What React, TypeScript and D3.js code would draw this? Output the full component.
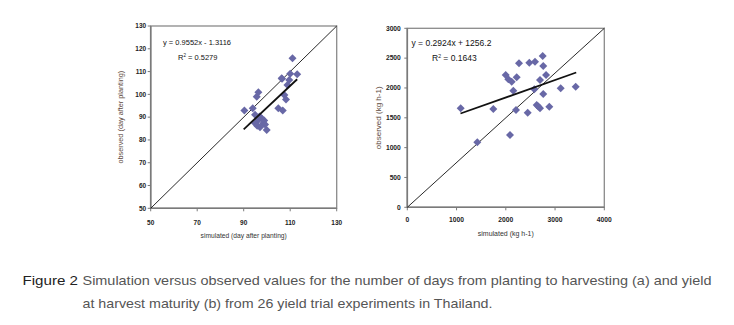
import React from "react";
import * as d3 from "d3";

// ---- Data: (a) days from planting to harvesting ----
const daysSimulated = [111, 113, 106.3, 109.6, 108.8, 110, 107.5, 108.2, 104.9, 106.8, 96.3, 95.6, 93.9, 90.3, 94.9, 96.3, 97.7, 98.4, 94.9, 99.9, 97, 95.8, 98.8, 96.8, 99.2, 106.5];
const daysObserved = [115.8, 108.8, 107.1, 106.3, 104.1, 109, 99.7, 97.8, 93.9, 92.9, 100.9, 99, 93.9, 92.9, 91, 88.8, 89.5, 87.3, 87.3, 84.4, 85.6, 86.2, 88.5, 90.3, 86.8, 106.8];
const daysTicksY = [50, 60, 70, 80, 90, 100, 110, 120, 130];
const daysTicksX = [50, 70, 90, 110, 130];
const daysFit = { slope: 0.9552, intercept: -1.3116, from: 90, to: 113 };

// ---- Data: (b) yield at harvest maturity ----
const yieldSimulated = [1084, 1421, 1746, 2085, 2207, 2445, 1998, 2051, 2120, 2221, 2152, 2268, 2477, 2593, 2749, 2761, 2817, 2694, 2579, 2761, 2627, 2694, 2883, 3114, 3419, 2660];
const yieldObserved = [1659, 1089, 1648, 1212, 1631, 1586, 2217, 2145, 2105, 2179, 1954, 2413, 2424, 2441, 2536, 2368, 2217, 2134, 1978, 1899, 1715, 1659, 1687, 1994, 2022, 1690];
const yieldTicksY = [0, 500, 1000, 1500, 2000, 2500, 3000];
const yieldTicksX = [0, 1000, 2000, 3000, 4000];
const yieldFit = { slope: 0.2924, intercept: 1256.2, from: 1080, to: 3430 };

const FONT = "'Liberation Sans', Arial, sans-serif";
const MARK = "#6868a6";

type PanelProps = {
  xs: number[]; ys: number[];
  xDomain: [number, number]; yDomain: [number, number];
  xRange: [number, number]; yRange: [number, number];
  ticksX: number[]; ticksY: number[];
  fit: { slope: number; intercept: number; from: number; to: number };
  eq: string; r2: string;
  eqX: number; eqY: number; r2X: number; r2Y: number; eqSize: number;
  tickSize: number; xLabelY: number; yLabelOffset: number;
  xTitle: string; yTitle: string; xTitleY: number; yTitleX: number; titleSize: number; yTitleSize: number;
};

function diamond(cx: number, cy: number, r: number) {
  return `M${cx},${cy - r}L${cx + r},${cy}L${cx},${cy + r}L${cx - r},${cy}Z`;
}

function Panel(p: PanelProps) {
  const x = d3.scaleLinear().domain(p.xDomain).range(p.xRange);
  const y = d3.scaleLinear().domain(p.yDomain).range(p.yRange);
  const line = d3.line<[number, number]>().x((d) => x(d[0])).y((d) => y(d[1]));
  const fitPts: [number, number][] = [
    [p.fit.from, p.fit.slope * p.fit.from + p.fit.intercept],
    [p.fit.to, p.fit.slope * p.fit.to + p.fit.intercept],
  ];
  const onePts: [number, number][] = [
    [p.xDomain[0], p.yDomain[0]],
    [p.xDomain[1], p.yDomain[1]],
  ];
  const [x0, x1] = p.xRange;
  const [yb, yt] = p.yRange;
  return (
    <g fontFamily={FONT}>
      <rect x={x0} y={yt} width={x1 - x0} height={yb - yt} fill="none" stroke="#8a8a8a" strokeWidth={1.3} />
      <line x1={x0} x2={x0} y1={yt} y2={yb} stroke="#7a7a7a" strokeWidth={1.6} />
      <line x1={x0} x2={x1} y1={yb} y2={yb} stroke="#7a7a7a" strokeWidth={1.6} />
      {p.ticksY.map((t) => (
        <g key={"y" + t}>
          <line x1={x0 - 3} x2={x0} y1={y(t)} y2={y(t)} stroke="#7a7a7a" strokeWidth={1} />
          <text x={x0 - p.yLabelOffset} y={y(t)} dy="0.35em" textAnchor="end" fontSize={p.tickSize} fill="#222" fontWeight={600}>{t}</text>
        </g>
      ))}
      {p.ticksX.map((t) => (
        <g key={"x" + t}>
          <line x1={x(t)} x2={x(t)} y1={yb} y2={yb + 3} stroke="#7a7a7a" strokeWidth={1} />
          <text x={x(t)} y={p.xLabelY} textAnchor="middle" fontSize={p.tickSize} fill="#222" fontWeight={600}>{t}</text>
        </g>
      ))}
      <path d={line(onePts) || ""} stroke="#111" strokeWidth={0.9} fill="none" />
      {p.xs.map((v, i) => (
        <path key={i} d={diamond(x(v), y(p.ys[i]), 4)} fill={MARK} />
      ))}
      <path d={line(fitPts) || ""} stroke="#111" strokeWidth={1.8} fill="none" />
      <text x={p.eqX} y={p.eqY} fontSize={p.eqSize} fill="#111">{p.eq}</text>
      <text x={p.r2X} y={p.r2Y} fontSize={p.eqSize} fill="#111">
        R<tspan dy={-3} fontSize={p.eqSize * 0.6}>2</tspan><tspan dy={3}>{" = " + p.r2}</tspan>
      </text>
      <text x={(x0 + x1) / 2} y={p.xTitleY} textAnchor="middle" fontSize={p.titleSize} fill="#333">{p.xTitle}</text>
      <text transform={`translate(${p.yTitleX},${(yt + yb) / 2}) rotate(-90)`} textAnchor="middle" fontSize={p.yTitleSize} fill="#5e4a40">{p.yTitle}</text>
    </g>
  );
}

export default function App() {
  return (
    <svg width={734} height={325} style={{ position: "absolute", left: 0, top: 0, background: "#fff" }}>
      <rect width={734} height={325} fill="#fff" />
      <Panel
        xs={daysSimulated} ys={daysObserved}
        xDomain={[50, 130]} yDomain={[50, 130]}
        xRange={[150.7, 336.7]} yRange={[208.3, 26]}
        ticksX={daysTicksX} ticksY={daysTicksY}
        fit={daysFit}
        eq="y = 0.9552x - 1.3116" r2="0.5279"
        eqX={163} eqY={45} r2X={178} r2Y={59.5} eqSize={7.5}
        tickSize={6.5} xLabelY={224.5} yLabelOffset={4.5}
        xTitle="simulated (day after planting)" yTitle="observed (day after planting)"
        xTitleY={237.5} yTitleX={123} titleSize={6.7} yTitleSize={7.3}
      />
      <Panel
        xs={yieldSimulated} ys={yieldObserved}
        xDomain={[0, 4000]} yDomain={[0, 3000]}
        xRange={[407.3, 604.3]} yRange={[207.3, 28.3]}
        ticksX={yieldTicksX} ticksY={yieldTicksY}
        fit={yieldFit}
        eq="y = 0.2924x + 1256.2" r2="0.1643"
        eqX={411.5} eqY={46} r2X={432} r2Y={61} eqSize={8.5}
        tickSize={6.7} xLabelY={222} yLabelOffset={6.5}
        xTitle="simulated (kg h-1)" yTitle="observed (kg h-1)"
        xTitleY={236} yTitleX={381} titleSize={7} yTitleSize={8}
      />
      <g fontFamily={FONT} fontSize={13.5}>
        <text x={22.5} y={284.5} fill="#222" textLength={55.5} lengthAdjust="spacingAndGlyphs">Figure 2</text>
        <text x={82.5} y={284.5} fill="#555" textLength={629} lengthAdjust="spacingAndGlyphs">Simulation versus observed values for the number of days from planting to harvesting (a) and yield</text>
        <text x={82.5} y={307.5} fill="#555" textLength={410} lengthAdjust="spacingAndGlyphs">at harvest maturity (b) from 26 yield trial experiments in Thailand.</text>
      </g>
    </svg>
  );
}
